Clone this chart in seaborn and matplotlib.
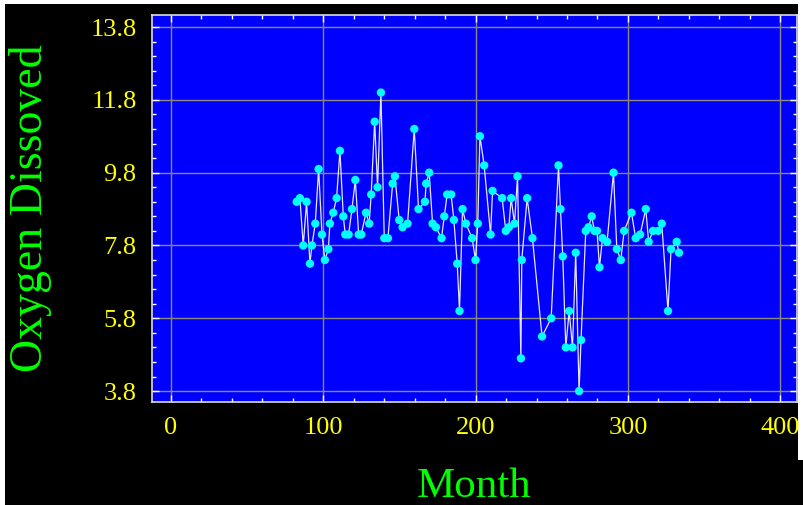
import numpy as np
import pandas as pd
import matplotlib
matplotlib.use("Agg")
import matplotlib.pyplot as plt
from matplotlib.ticker import AutoMinorLocator
from matplotlib.patches import Rectangle
import seaborn as sns

month = [82.5, 84.6, 86.8, 89.0, 91.2, 92.5, 94.7, 96.9, 99.1, 101.0,
         103.3, 104.3, 106.5, 108.7, 110.9, 113.1, 114.4, 116.6, 118.8, 121.0,
         123.2, 124.9, 128.0, 130.1, 131.4, 133.7, 135.6, 137.8, 140.0, 142.4,
         145.5, 147.0, 149.8, 152.0, 155.3, 159.7, 162.5, 166.7, 167.5, 169.5,
         171.7, 173.9, 177.6, 179.4, 181.3, 183.9, 185.7, 187.9, 189.4, 191.4,
         193.6, 197.7, 199.9, 201.4, 202.8, 205.6, 209.8, 211.1, 217.4, 219.8,
         221.8, 223.3, 225.5, 227.5, 229.7, 230.3, 233.8, 237.3, 243.6, 249.6,
         254.4, 255.7, 257.2, 259.2, 261.4, 263.6, 265.7, 267.9, 269.2, 272.3,
         274.1, 276.2, 278.0, 279.7, 281.3, 283.3, 286.3, 290.5, 292.7, 295.3,
         297.5, 302.3, 305.1, 308.0, 311.7, 313.6, 316.5, 319.8, 322.2, 326.3,
         328.3, 332.0, 333.5]
oxygen = [9.0, 9.1, 7.8, 9.0, 7.3, 7.8, 8.4, 9.9, 8.1, 7.4,
          7.7, 8.4, 8.7, 9.1, 10.4, 8.6, 8.1, 8.1, 8.8, 9.6,
          8.1, 8.1, 8.7, 8.4, 9.2, 11.2, 9.4, 12.0, 8.0, 8.0,
          9.5, 9.7, 8.5, 8.3, 8.4, 11.0, 8.8, 9.0, 9.5, 9.8,
          8.4, 8.3, 8.0, 8.6, 9.2, 9.2, 8.5, 7.3, 6.0, 8.8,
          8.4, 8.0, 7.4, 8.4, 10.8, 10.0, 8.1, 9.3, 9.1, 8.2,
          8.3, 9.1, 8.4, 9.7, 4.7, 7.4, 9.1, 8.0, 5.3, 5.8,
          10.0, 8.8, 7.5, 5.0, 6.0, 5.0, 7.6, 3.8, 5.2, 8.2,
          8.3, 8.6, 8.2, 8.2, 7.2, 8.0, 7.9, 9.8, 7.7, 7.4,
          8.2, 8.7, 8.0, 8.1, 8.8, 7.9, 8.2, 8.2, 8.4, 6.0,
          7.7, 7.9, 7.6]

x_ticks = [0, 100, 200, 300, 400]
y_ticks = [3.8, 5.8, 7.8, 9.8, 11.8, 13.8]

df = pd.DataFrame({"Month": month, "Oxygen Dissoved": oxygen})

plt.rcParams["font.family"] = ["Liberation Serif", "DejaVu Serif"]

W, H = 804, 505
fig = plt.figure(figsize=(8.04, 5.05), dpi=100, facecolor="white")
# black panel inside a thin white margin
fig.patches.append(Rectangle((5 / W, 0), (798 - 5) / W, 1 - 4 / H,
                             transform=fig.transFigure, facecolor="black",
                             edgecolor="none", zorder=-10))
fig.patches.append(Rectangle((798 / W, 0), 6 / W, 45 / H,
                             transform=fig.transFigure, facecolor="black",
                             edgecolor="none", zorder=-10))

ax = fig.add_axes([152 / W, 1 - 402 / H, (797 - 152) / W, (402 - 15) / H])
ax.set_facecolor("#0000FF")

sns.lineplot(data=df, x="Month", y="Oxygen Dissoved", sort=False, estimator=None,
             color="white", linewidth=0.9, alpha=0.9, ax=ax, zorder=3)
sns.scatterplot(data=df, x="Month", y="Oxygen Dissoved", color="#00FFFF",
                s=36, edgecolor="none", ax=ax, zorder=4)

ax.set_xlim(-12.5, 411)
ax.set_ylim(3.5, 14.13)
ax.set_xticks(x_ticks)
ax.set_yticks(y_ticks)
ax.set_yticklabels([f"{v:.1f}" for v in y_ticks])
ax.xaxis.set_minor_locator(AutoMinorLocator(5))
ax.yaxis.set_minor_locator(AutoMinorLocator(5))
ax.grid(True, which="major", color="#8A8A80", linewidth=1.0, zorder=1)
ax.set_axisbelow(True)

ax.tick_params(axis="both", which="both", direction="in", colors="white",
               top=True, right=True, labelcolor="#FFFF00", labelsize=19, pad=11)
ax.tick_params(which="major", length=5, width=1)
ax.tick_params(which="minor", length=3, width=1)

for s in ax.spines.values():
    s.set_color("#DDDDDD")
    s.set_linewidth(1.2)

ax.set_xlabel("Month", color="#00FF00", fontsize=31, labelpad=20)
ax.set_ylabel("Oxygen Dissoved", color="#00FF00", fontsize=33, labelpad=28)

fig.savefig("out.png", dpi=100, facecolor=fig.get_facecolor())
